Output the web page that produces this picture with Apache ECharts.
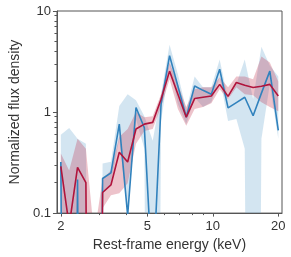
<!DOCTYPE html>
<html>
<head>
<meta charset="utf-8">
<script src="https://cdn.jsdelivr.net/npm/echarts@6/dist/echarts.min.js"></script>
<style>
html,body{margin:0;padding:0;background:#fff;}
#chart{width:291px;height:257px;}
</style>
</head>
<body>
<div id="chart"></div>
<script>
// Energy bins (keV)
const energy = [2.000, 2.185, 2.387, 2.608, 2.849, 3.112, 3.400, 3.714, 4.058, 4.433, 4.843, 5.291, 5.780, 6.325, 6.909, 7.548, 8.246, 9.009, 9.842, 10.75, 11.75, 12.83, 14.02, 15.32, 16.73, 18.28, 20.00];
// Blue series (value, lower, upper); 0 = non-positive (off the log axis)
const blueVal = [0.32, 0, 0.215, 0, 0, 0.22, 0.25, 0.76, 0.095, 1.11, 0.70, 0.02, 1.20, 3.62, 1.80, 0.89, 1.81, 1.64, 1.50, 2.65, 1.10, 1.24, 1.40, 0.92, 1.54, 2.54, 0.66];
const blueLo  = [0, 0, 0, 0, 0, 0.157, 0.197, 0.544, 0.10, 0.854, 0.434, 0, 0.816, 2.96, 1.20, 0.763, 1.40, 1.12, 1.25, 2.2, 0.816, 0.854, 0.434, 0, 0.544, 1.88, 0.544];
const blueHi  = [0.595, 0.697, 0.544, 0.486, 0, 0.309, 0.323, 1.145, 1.50, 1.31, 0.91, 0.52, 1.50, 4.64, 2.36, 1.05, 2.25, 1.76, 1.76, 3.31, 1.34, 1.88, 3.31, 1.34, 4.44, 2.89, 2.25];
// Red series
const redVal = [0.29, 0.075, 0.283, 0.20, 0, 0.16, 0.19, 0.40, 0.32, 0.68, 0.76, 0.79, 1.34, 2.54, 1.50, 0.89, 1.36, 1.40, 1.44, 1.88, 1.43, 1.96, 1.84, 1.75, 1.80, 1.88, 1.44];
const redLo  = [0, 0, 0, 0, 0, 0.112, 0.15, 0.157, 0.197, 0.486, 0.65, 0.681, 1.12, 2.11, 1.07, 0.73, 1.07, 1.12, 1.22, 1.68, 1.34, 1.76, 1.50, 1.47, 1.25, 1.12, 1.02];
const redHi  = [0.388, 0.264, 0.544, 0.434, 0.06, 0.22, 0.264, 0.569, 0.681, 1.0, 0.89, 0.91, 1.50, 3.09, 1.88, 1.12, 1.68, 1.76, 1.76, 2.2, 1.76, 2.25, 2.25, 2.11, 3.54, 3.09, 2.01];
// Axis ticks
const xLabels = [2, 5, 10, 20];
const xMinor = [3, 4, 6, 7, 8, 9];
const yLabels = [0.1, 1, 10];
const yMinor = [0.2, 0.3, 0.4, 0.5, 0.6, 0.7, 0.8, 0.9, 2, 3, 4, 5, 6, 7, 8, 9];

const FLOOR = 1e-12;
const f = v => (v > 0 ? v : FLOOR);

const FONT = 'Liberation Sans';
const TXT = '#333';
const AX = '#555';

function bandSeries(lo, hi, color) {
  return {
    type: 'custom',
    clip: true,
    silent: true,
    data: [[energy[0], 1]],
    renderItem: function (params, api) {
      const pts = [];
      for (let i = 0; i < energy.length; i++) pts.push(api.coord([energy[i], f(hi[i])]));
      for (let i = energy.length - 1; i >= 0; i--) pts.push(api.coord([energy[i], f(lo[i])]));
      return { type: 'polygon', shape: { points: pts }, style: { fill: color } };
    }
  };
}
function lineSeries(vals, color, z) {
  return {
    type: 'line',
    data: energy.map((e, i) => [e, f(vals[i])]),
    showSymbol: false,
    clip: true,
    z: z,
    lineStyle: { color: color, width: 1.6 },
    itemStyle: { color: color },
    animation: false
  };
}

const chart = echarts.init(document.getElementById('chart'), null, { renderer: 'canvas' });
chart.setOption({
  animation: false,
  backgroundColor: '#fff',
  grid: { left: 46, right: 9, top: 11, bottom: 42, show: true, borderColor: AX, borderWidth: 1 },
  xAxis: [
    {
      type: 'log', logBase: 10, min: 1.92, max: 20.8,
      name: 'Rest-frame energy (keV)', nameLocation: 'middle', nameGap: 22,
      nameTextStyle: { fontFamily: FONT, fontSize: 14, color: TXT },
      axisLine: { show: true, lineStyle: { color: AX, width: 1 } },
      axisTick: { show: true, inside: false, length: 3.5, lineStyle: { color: AX }, customValues: xLabels },
      axisLabel: { fontFamily: FONT, fontSize: 13, color: TXT, margin: 7, customValues: xLabels, formatter: v => String(v) },
      splitLine: { show: false }, minorTick: { show: false }
    },
    {
      type: 'log', logBase: 10, min: 1.92, max: 20.8, position: 'bottom',
      axisLine: { show: false },
      axisTick: { show: true, length: 2, lineStyle: { color: AX }, customValues: xMinor },
      axisLabel: { show: false },
      splitLine: { show: false }
    }
  ],
  yAxis: [
    {
      type: 'log', logBase: 10, min: 0.1, max: 10,
      name: 'Normalized flux density', nameLocation: 'middle', nameGap: 30,
      nameTextStyle: { fontFamily: FONT, fontSize: 14, color: TXT },
      axisLine: { show: true, lineStyle: { color: AX, width: 1 } },
      axisTick: { show: true, length: 4, lineStyle: { color: AX }, customValues: yLabels },
      axisLabel: { fontFamily: FONT, fontSize: 13, color: TXT, margin: 6, customValues: yLabels, formatter: v => String(v) },
      splitLine: { show: false }
    },
    {
      type: 'log', logBase: 10, min: 0.1, max: 10, position: 'left',
      axisLine: { show: false },
      axisTick: { show: true, length: 2.5, lineStyle: { color: AX }, customValues: yMinor },
      axisLabel: { show: false },
      splitLine: { show: false }
    }
  ],
  series: [
    bandSeries(blueLo, blueHi, 'rgba(110,170,210,0.3)'),
    bandSeries(redLo, redHi, 'rgba(190,40,70,0.28)'),
    lineSeries(blueVal, '#3182bd', 3),
    lineSeries(redVal, '#b0143c', 4)
  ]
});
</script>
</body>
</html>
